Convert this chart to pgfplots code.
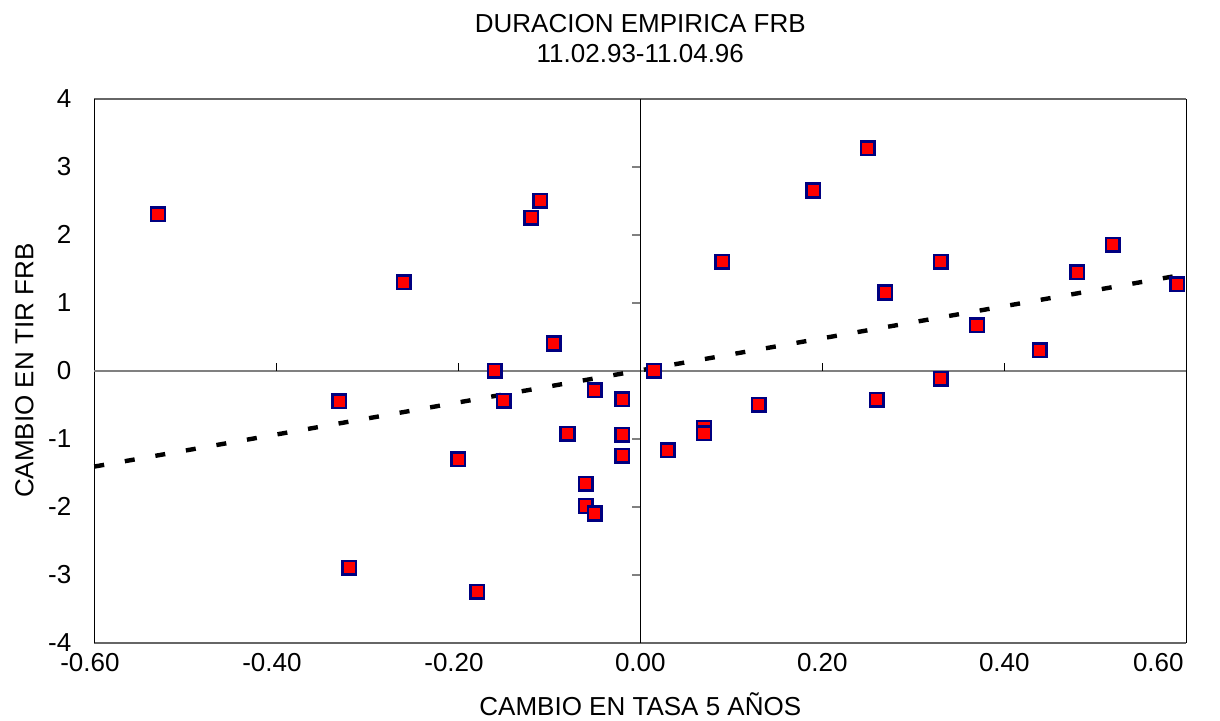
\documentclass[border=0pt]{standalone}
\usepackage{fontspec}
\setmainfont{Liberation Sans}
\usepackage{pgfplots}
\pgfplotsset{compat=1.18}

\definecolor{markred}{HTML}{FF0000}
\definecolor{marknavy}{HTML}{000080}
\definecolor{zerogray}{HTML}{808080}

\begin{document}
\begin{tikzpicture}[font=\fontsize{13}{15}\selectfont]
\begin{axis}[
    name=main,
    width=546pt, height=272pt, scale only axis,
    xmin=-0.6, xmax=0.6, ymin=-4, ymax=4,
    xtick={-0.6,-0.4,-0.2,0,0.2,0.4,0.6},
    xticklabels={\llap{-}0.60, \llap{-}0.40, \llap{-}0.20, 0.00, 0.20, 0.40, 0.60\hspace*{28pt}},
    ytick={-4,-3,-2,-1,0,1,2,3,4},
    major tick length=0pt,
    /pgf/number format/assume math mode=true,
    xticklabel style={yshift=-4.5pt, inner ysep=0.5pt},
    yticklabel style={xshift=-8pt, inner ysep=0.5pt},
    separate axis lines,
    x axis line style={draw=black!60, line width=0.9pt},
    y axis line style={draw=black, line width=0.7pt},
    clip=false,
    title={DURACION EMPIRICA FRB\\11.02.93-11.04.96},
    every axis title/.style={at={(axis description cs:0.5,1.1097)}, anchor=center, align=center},
    xlabel={CAMBIO EN TASA 5 AÑOS},
    every axis x label/.style={at={(axis description cs:0.5,-0.1140)}, anchor=center},
    ylabel={CAMBIO EN TIR FRB},
    every axis y label/.style={at={(axis description cs:-0.0640,0.5)}, anchor=center, rotate=90},
]

% zero lines and their ticks
\draw[zerogray, line width=1pt] (axis cs:-0.6,0) -- (axis cs:0.6,0);
\draw[black, line width=0.7pt] (axis cs:0,-4) -- (axis cs:0,4);
\pgfplotsinvokeforeach{-0.4,-0.2,0.2,0.4}{
  \draw[black, line width=0.6pt] (axis cs:#1,0) -- ++(0pt,4pt);
}
\pgfplotsinvokeforeach{-3,-2,-1,0,1,2,3}{
  \draw[zerogray, line width=1pt] (axis cs:0,#1) -- ++(-4pt,0pt);
}

% observations
\addplot[only marks, mark=square*, mark size=3.4pt,
  mark options={draw=marknavy, fill=markred, line width=1.25pt}] coordinates {
    (-0.530,2.30)
    (-0.260,1.30)
    (-0.331,-0.45)
    (-0.320,-2.90)
    (-0.200,-1.30)
    (-0.179,-3.25)
    (-0.160,0.00)
    (-0.150,-0.44)
    (-0.120,2.25)
    (-0.110,2.50)
    (-0.095,0.40)
    (-0.080,-0.93)
    (-0.060,-1.66)
    (-0.060,-1.99)
    (-0.050,-2.10)
    (-0.050,-0.29)
    (-0.020,-0.42)
    (-0.020,-0.94)
    (-0.020,-1.25)
    (0.015,0.00)
    (0.030,-1.17)
    (0.070,-0.84)
    (0.070,-0.92)
    (0.090,1.60)
    (0.130,-0.50)
    (0.190,2.65)
    (0.250,3.27)
    (0.260,-0.43)
    (0.269,1.15)
    (0.330,1.60)
    (0.330,-0.12)
    (0.370,0.67)
    (0.439,0.30)
    (0.480,1.45)
    (0.519,1.85)
    (0.590,1.27)
};

% trend line
\addplot[black, line width=2.2pt, dash pattern=on 5pt off 10.5pt] coordinates {
    (-0.6,-1.41)
    (0.6,1.42)
};

\end{axis}
\pgfresetboundingbox
\path[use as bounding box] ([xshift=-47.15pt,yshift=-39.15pt]main.south west)
  rectangle ([xshift=16.85pt,yshift=49.35pt]main.north east);
\end{tikzpicture}
\end{document}
